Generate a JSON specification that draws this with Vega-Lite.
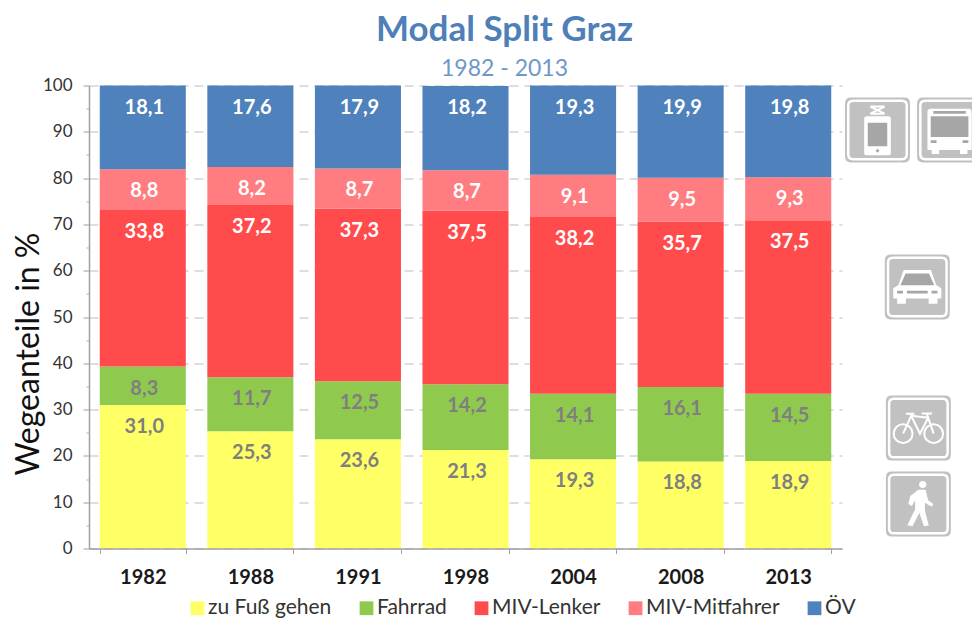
{
"$schema":"https://vega.github.io/schema/vega-lite/v6.json",
"width":753,"height":463,
"autosize":{"type":"none"},
"padding":{"left":89,"top":85.5,"right":130,"bottom":69.5},
"background":"white",
"config":{"view":{"stroke":null},"font":"Lato","locale":{"number":{"decimal":",","thousands":".","grouping":[3],"currency":["","€"]}}},
"title":{"text":"Modal Split Graz","subtitle":"1982 - 2013","anchor":"middle","dx":39,"offset":-4,"font":"Lato","fontSize":35,"fontWeight":"bold","color":"#4f7fb8","subtitleFont":"Lato","subtitleFontSize":23,"subtitleColor":"#6f97c8","subtitlePadding":10},
"datasets":{
"modal":[
{"year":"1982","mode":"zu Fuß gehen","rank":1,"share":31.0},{"year":"1982","mode":"Fahrrad","rank":2,"share":8.3},{"year":"1982","mode":"MIV-Lenker","rank":3,"share":33.8},{"year":"1982","mode":"MIV-Mitfahrer","rank":4,"share":8.8},{"year":"1982","mode":"ÖV","rank":5,"share":18.1},
{"year":"1988","mode":"zu Fuß gehen","rank":1,"share":25.3},{"year":"1988","mode":"Fahrrad","rank":2,"share":11.7},{"year":"1988","mode":"MIV-Lenker","rank":3,"share":37.2},{"year":"1988","mode":"MIV-Mitfahrer","rank":4,"share":8.2},{"year":"1988","mode":"ÖV","rank":5,"share":17.6},
{"year":"1991","mode":"zu Fuß gehen","rank":1,"share":23.6},{"year":"1991","mode":"Fahrrad","rank":2,"share":12.5},{"year":"1991","mode":"MIV-Lenker","rank":3,"share":37.3},{"year":"1991","mode":"MIV-Mitfahrer","rank":4,"share":8.7},{"year":"1991","mode":"ÖV","rank":5,"share":17.9},
{"year":"1998","mode":"zu Fuß gehen","rank":1,"share":21.3},{"year":"1998","mode":"Fahrrad","rank":2,"share":14.2},{"year":"1998","mode":"MIV-Lenker","rank":3,"share":37.5},{"year":"1998","mode":"MIV-Mitfahrer","rank":4,"share":8.7},{"year":"1998","mode":"ÖV","rank":5,"share":18.2},
{"year":"2004","mode":"zu Fuß gehen","rank":1,"share":19.3},{"year":"2004","mode":"Fahrrad","rank":2,"share":14.1},{"year":"2004","mode":"MIV-Lenker","rank":3,"share":38.2},{"year":"2004","mode":"MIV-Mitfahrer","rank":4,"share":9.1},{"year":"2004","mode":"ÖV","rank":5,"share":19.3},
{"year":"2008","mode":"zu Fuß gehen","rank":1,"share":18.8},{"year":"2008","mode":"Fahrrad","rank":2,"share":16.1},{"year":"2008","mode":"MIV-Lenker","rank":3,"share":35.7},{"year":"2008","mode":"MIV-Mitfahrer","rank":4,"share":9.5},{"year":"2008","mode":"ÖV","rank":5,"share":19.9},
{"year":"2013","mode":"zu Fuß gehen","rank":1,"share":18.9},{"year":"2013","mode":"Fahrrad","rank":2,"share":14.5},{"year":"2013","mode":"MIV-Lenker","rank":3,"share":37.5},{"year":"2013","mode":"MIV-Mitfahrer","rank":4,"share":9.3},{"year":"2013","mode":"ÖV","rank":5,"share":19.8}
],
"icons":[
{"icon":"Tram","slot":7.33,"level":90.4},
{"icon":"Bus","slot":8.0,"level":90.4},
{"icon":"Auto","slot":7.7,"level":56.5},
{"icon":"Rad","slot":7.71,"level":26.0},
{"icon":"Fuß","slot":7.71,"level":9.6}
]},
"resolve":{"scale":{"x":"independent","shape":"independent"},"axis":{"y":"independent","x":"independent"}},
"layer":[
{"data":{"name":"modal"},"mark":{"type":"bar"},
"encoding":{
"x":{"field":"year","type":"nominal","scale":{"paddingInner":0.2,"paddingOuter":0.1},"axis":{"title":null,"labelAngle":0,"tickBand":"extent","labelFont":"Lato","labelFontSize":20,"labelFontWeight":"bold","labelColor":"#1a1a1a","labelPadding":14,"tickColor":"#a0a0a0","tickSize":5,"domainColor":"#a0a0a0","domainWidth":1.5,"zindex":1}},
"y":{"field":"share","type":"quantitative","stack":"zero","scale":{"domain":[0,100],"nice":false},"axis":{"title":"Wegeanteile in %","titleFont":"Lato","titleFontSize":32,"titleFontWeight":"normal","titleColor":"#111111","titleX":-44,"titleY":268,"values":[0,10,20,30,40,50,60,70,80,90,100],"grid":true,"gridColor":"#bdbdbd","gridDash":[9,6],"gridWidth":1,"labelFont":"Lato","labelFontSize":17,"labelColor":"#333333","labelPadding":11,"tickColor":"#a0a0a0","tickSize":6,"domainColor":"#a0a0a0","domainWidth":1.5}},
"order":{"field":"rank","type":"quantitative"},
"color":{"field":"mode","type":"nominal","scale":{"domain":["zu Fuß gehen","Fahrrad","MIV-Lenker","MIV-Mitfahrer","ÖV"],"range":["#ffff66","#8fca4e","#ff4b4b","#ff7c80","#4f81bd"]},
"legend":{"title":null,"orient":"none","legendX":98,"legendY":512,"direction":"horizontal","columns":5,"columnPadding":24,"symbolType":"square","symbolSize":190,"symbolStrokeWidth":0,"labelFont":"Lato","labelFontSize":21,"labelColor":"#333333","labelOffset":0}}
}},
{"data":{"name":"modal"},"mark":{"type":"tick","opacity":0},
"encoding":{
"y":{"field":"minor","type":"quantitative","scale":{"domain":[0,100],"nice":false},"axis":{"title":null,"orient":"left","values":[5,15,25,35,45,55,65,75,85,95],"labels":false,"domain":false,"grid":false,"tickColor":"#b0b0b0","tickSize":3}}
}},
{"data":{"name":"modal"},"mark":{"type":"text","fontWeight":"bold","fontSize":20,"font":"Lato","baseline":"middle","dy":22,"dx":1.5},
"encoding":{
"x":{"field":"year","type":"nominal","scale":{"paddingInner":0.2,"paddingOuter":0.1},"axis":null},
"y":{"field":"share","type":"quantitative","stack":"zero","scale":{"domain":[0,100],"nice":false},"axis":null},
"order":{"field":"rank","type":"quantitative"},
"detail":{"field":"mode"},
"text":{"field":"share","type":"quantitative","format":".1f"},
"color":{"condition":{"test":"datum.rank<=2","value":"#7f7f7f"},"value":"#ffffff"}
}},
{"data":{"name":"icons"},"mark":{"type":"point","filled":true,"fill":"#a6a6a6","stroke":null,"size":4225,"shape":"M-.82,-1L.82,-1Q1,-1 1,-.82L1,.82Q1,1 .82,1L-.82,1Q-1,1 -1,.82L-1,-.82Q-1,-1 -.82,-1Z"},
"encoding":{"x":{"field":"slot","type":"quantitative","scale":{"domain":[0,7],"nice":false,"zero":false},"axis":null},"y":{"field":"level","type":"quantitative","scale":{"domain":[0,100],"nice":false},"axis":null}}},
{"data":{"name":"icons"},"mark":{"type":"point","filled":false,"stroke":"#ffffff","strokeWidth":2.5,"size":4225,"opacity":1,"shape":"M-.75,-.9L.75,-.9Q.9,-.9 .9,-.75L.9,.75Q.9,.9 .75,.9L-.75,.9Q-.9,.9 -.9,.75L-.9,-.75Q-.9,-.9 -.75,-.9Z"},
"encoding":{"x":{"field":"slot","type":"quantitative","scale":{"domain":[0,7],"nice":false,"zero":false},"axis":null},"y":{"field":"level","type":"quantitative","scale":{"domain":[0,100],"nice":false},"axis":null}}},
{"data":{"name":"icons"},"mark":{"type":"point","filled":true,"fill":"#ffffff","stroke":null,"size":4225,"opacity":1},
"encoding":{"x":{"field":"slot","type":"quantitative","scale":{"domain":[0,7],"nice":false,"zero":false},"axis":null},"y":{"field":"level","type":"quantitative","scale":{"domain":[0,100],"nice":false},"axis":null},
"shape":{"field":"icon","type":"nominal","legend":null,"scale":{"domain":["Tram","Bus","Auto","Rad","Fuß"],"range":[
"M-.33,-.42L.33,-.42Q.41,-.42 .41,-.34L.41,.7Q.41,.78 .33,.78L-.33,.78Q-.41,.78 -.41,.7L-.41,-.34Q-.41,-.42 -.33,-.42Z",
"M-.58,-.65L.58,-.65Q.68,-.65 .68,-.55L.68,.62L.55,.62L.55,.74L.32,.74L.32,.62L-.32,.62L-.32,.74L-.55,.74L-.55,.62L-.68,.62L-.68,-.55Q-.68,-.65 -.58,-.65Z",
"M-.42,-.52L.42,-.52L.58,-.06L.74,.04L.74,.36L.62,.36L.62,.52L.35,.52L.35,.36L-.35,.36L-.35,.52L-.62,.52L-.62,.36L-.74,.36L-.74,.04L-.58,-.06Z",
"M.48,.16L.48,.16Z",
"M.13,-.71C.2,-.71 .25,-.66 .25,-.6C.25,-.54 .2,-.49 .13,-.49C.07,-.49 .02,-.54 .02,-.6C.02,-.66 .07,-.71 .13,-.71ZM0,-.44L.22,-.44L.3,-.12L.46,0L.41,.08L.2,-.04L.2,.2L.32,.66L.17,.68L.03,.27L-.18,.68L-.34,.65L-.1,.16L-.1,-.12L-.2,.06L-.31,0L-.25,-.25Z"
]}}}},
{"data":{"name":"icons"},"mark":{"type":"point","filled":true,"fill":"#a6a6a6","stroke":null,"size":4225,"opacity":1},
"encoding":{"x":{"field":"slot","type":"quantitative","scale":{"domain":[0,7],"nice":false,"zero":false},"axis":null},"y":{"field":"level","type":"quantitative","scale":{"domain":[0,100],"nice":false},"axis":null},
"shape":{"field":"icon","type":"nominal","legend":null,"scale":{"domain":["Tram","Bus","Auto","Rad","Fuß"],"range":[
"M-.3,-.22L.3,-.22L.3,.5L-.3,.5ZM-.06,.64L0,.58L.06,.64L0,.7Z",
"M-.58,-.42L.58,-.42L.58,.22L-.58,.22ZM-.5,-.58L.5,-.58L.5,-.5L-.5,-.5ZM-.58,.32L-.4,.32L-.4,.4L-.58,.4ZM.4,.32L.58,.32L.58,.4L.4,.4Z",
"M-.36,-.41L.36,-.41L.52,-.05L-.52,-.05ZM-.32,.12L.32,.12L.32,.2L-.32,.2ZM-.62,.12L-.44,.12L-.44,.2L-.62,.2ZM.44,.12L.62,.12L.62,.2L.44,.2Z",
"M0,0L0,0Z",
"M0,0L0,0Z"
]}}}},
{"data":{"name":"icons"},"mark":{"type":"point","filled":false,"stroke":"#ffffff","strokeWidth":2,"size":4225,"opacity":1},
"encoding":{"x":{"field":"slot","type":"quantitative","scale":{"domain":[0,7],"nice":false,"zero":false},"axis":null},"y":{"field":"level","type":"quantitative","scale":{"domain":[0,100],"nice":false},"axis":null},
"shape":{"field":"icon","type":"nominal","legend":null,"scale":{"domain":["Tram","Bus","Auto","Rad","Fuß"],"range":[
"M-.22,-.72L.22,-.5M.22,-.72L-.22,-.5M-.22,-.5L.22,-.5M-.22,-.72L.22,-.72",
"M0,0L0,0",
"M0,0L0,0",
"M-.47,-.12C-.31,-.12 -.18,.01 -.18,.17C-.18,.33 -.31,.46 -.47,.46C-.63,.46 -.76,.33 -.76,.17C-.76,.01 -.63,-.12 -.47,-.12ZM.47,-.12C.63,-.12 .76,.01 .76,.17C.76,.33 .63,.46 .47,.46C.31,.46 .18,.33 .18,.17C.18,.01 .31,-.12 .47,-.12ZM-.47,.17L-.22,-.38L.3,-.32L.47,.17M.3,-.32L.05,.17L-.22,-.38M.1,-.45L.42,-.45M.26,-.45L.3,-.32M-.38,-.44L-.12,-.44",
"M0,0L0,0"
]}}}}
]
}
